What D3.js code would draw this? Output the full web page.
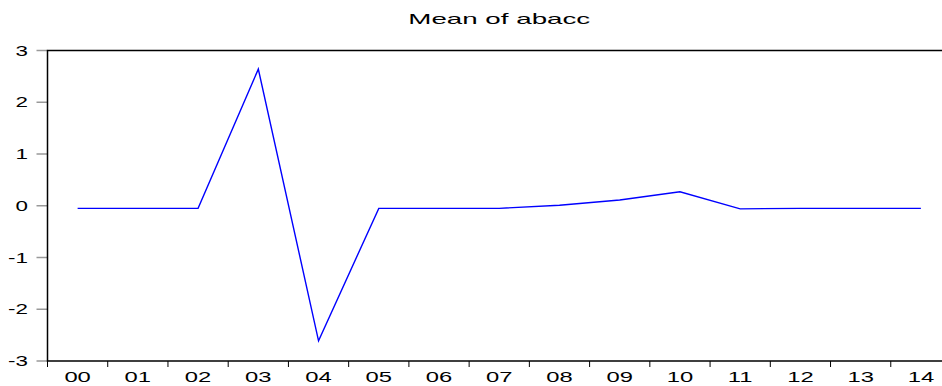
<!DOCTYPE html>
<html><head><meta charset="utf-8">
<script src="https://cdn.jsdelivr.net/npm/d3@7"></script>
<style>body{margin:0;background:#fff}svg{display:block}text{font-family:"Liberation Sans",Arial,sans-serif}</style>
</head><body>
<script>
const categories = ["00","01","02","03","04","05","06","07","08","09","10","11","12","13","14"];
const values = [-0.05,-0.05,-0.05,2.64,-2.61,-0.05,-0.05,-0.05,0.01,0.11,0.27,-0.06,-0.05,-0.05,-0.05];
const yTicks = [3,2,1,0,-1,-2,-3];
const title = "Mean of abacc";

const W = 942, H = 386;
const L = 47.5, R = 951, T = 50.5, B = 361;
const svg = d3.select("body").append("svg").attr("width", W).attr("height", H);

const x = d3.scaleBand().domain(categories).range([L, R]);
const y = d3.scaleLinear().domain([-3, 3]).range([B, T]);

// y ticks (gray) and labels
const yAxis = svg.append("g");
yAxis.selectAll("line").data(yTicks).join("line")
  .attr("x1", L - 11).attr("x2", L).attr("y1", d => y(d)).attr("y2", d => y(d))
  .attr("stroke", "#999").attr("stroke-width", 1.5);
yAxis.selectAll("text").data(yTicks).join("text")
  .attr("transform", d => `translate(28,${y(d) + 5}) scale(1.6,1)`)
  .attr("text-anchor", "end").attr("font-size", 14).attr("fill", "#000")
  .text(d => d);

// x ticks at band boundaries
const bounds = categories.map(c => x(c));
svg.append("g").selectAll("line").data(bounds).join("line")
  .attr("x1", d => d).attr("x2", d => d).attr("y1", B).attr("y2", B + 6)
  .attr("stroke", "#000").attr("stroke-width", 1);
svg.append("g").selectAll("text").data(categories).join("text")
  .attr("transform", d => `translate(${x(d) + x.bandwidth() / 2},382) scale(1.7,1)`)
  .attr("text-anchor", "middle").attr("font-size", 14).attr("fill", "#000")
  .text(d => d);

// frame
svg.append("path")
  .attr("d", `M${R},${T}H${L}V${B}H${R}`)
  .attr("fill", "none").attr("stroke", "#000").attr("stroke-width", 1.5);

// line
const line = d3.line().x((d, i) => x(categories[i]) + x.bandwidth() / 2).y(d => y(d));
svg.append("path").datum(values).attr("d", line)
  .attr("fill", "none").attr("stroke", "#0000ff").attr("stroke-width", 1.4);

// title
svg.append("text")
  .attr("transform", `translate(${(L + R) / 2},23.5) scale(1.85,1)`)
  .attr("text-anchor", "middle").attr("font-size", 15).attr("fill", "#000")
  .text(title);
</script>
</body></html>
